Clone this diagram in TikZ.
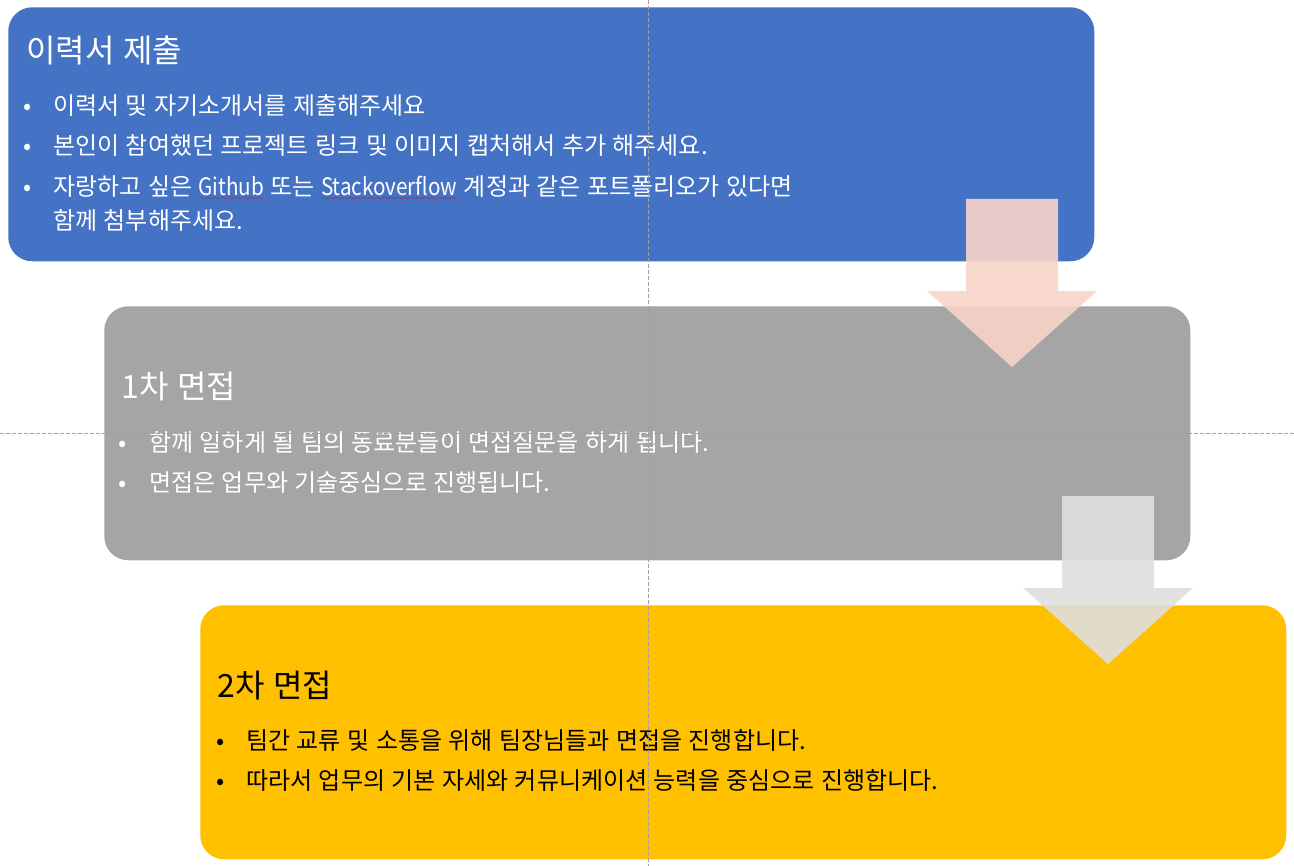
\documentclass[tikz,border=0pt]{standalone}
\usepackage{fontspec}
\setmainfont{Noto Sans CJK KR}[WordSpace=1.2]
\usepackage{xcolor}
\usepackage{tikz}
\usetikzlibrary{positioning,calc}

\definecolor{stageblue}{HTML}{4472C4}
\definecolor{stagegray}{HTML}{A5A5A5}
\definecolor{stagegold}{HTML}{FFC000}
\definecolor{arrpink}{RGB}{248,212,200}
\definecolor{arrgray}{RGB}{223,223,223}
\definecolor{guidegray}{RGB}{160,160,160}

% red wavy spell-check mark
\font\sixly=lasy6
\newcommand\spellwave[1]{\setbox0\hbox{\addfontfeatures{FakeStretch=0.86}#1}\rlap{\lower3pt\hbox to\wd0{\color{red!85!black}\xleaders\hbox{\sixly\char58}\hfil}}\box0}

\begin{document}
\begin{tikzpicture}[x=0.75pt,y=-0.75pt,
	stage/.style={rounded corners=18pt, minimum width=814.5pt, minimum height=190.5pt, anchor=north west, inner sep=0pt},
	ttl/.style={anchor=base west, inner sep=0pt, font=\fontsize{24}{28}\selectfont},
	itm/.style={anchor=base west, inner sep=0pt, font=\fontsize{18}{25.5}\selectfont},
	bul/.style={anchor=base, inner sep=0pt, font=\fontsize{18}{25.5}\selectfont},
	guide/.style={guidegray, line width=0.75pt, dash pattern=on 3pt off 1.5pt}]
	\useasboundingbox (0,0) rectangle (1294,866);
	\node[stage, fill=stageblue] (resume) at (8,7) {};
	\node[stage, fill=stagegray] (first) at (104,306) {};
	\node[stage, fill=stagegold] (second) at (200,605) {};
	% block arrows
	\foreach \cx/\ty/\col in {1012/199/arrpink, 1108/496/arrgray}{
		\fill[\col, opacity=0.9] ({\cx-46},\ty) -- ({\cx+46},\ty) -- ({\cx+46},\ty+92) -- ({\cx+85},\ty+92) -- (\cx,\ty+168) -- ({\cx-85},\ty+92) -- ({\cx-46},\ty+92) -- cycle;}
	% stage 1
	\node[ttl, text=white] (t1) at (26,63) {이력서 제출};
	\foreach \y/\t [count=\i] in {115/{이력서 및 자기소개서를 제출해주세요}, 155/{본인이 참여했던 프로젝트 링크 및 이미지 캡처해서 추가 해주세요.}, 196/{자랑하고 싶은 \spellwave{Github}\ 또는 \spellwave{Stackoverflow}\ 계정과 같은 포트폴리오가 있다면}}{
		\node[bul, text=white] (d1-\i) at (28,\y) {•};
		\node[itm, text=white] (l1-\i) at (53,\y) {\t};}
	\node[itm, text=white] (l1-4) at (53,229) {함께 첨부해주세요.};
	% stage 2
	\node[ttl, text=white] (t2) at (121,398) {1차 면접};
	\foreach \y/\t [count=\i] in {451/{함께 일하게 될 팀의 동료분들이 면접질문을 하게 됩니다.}, 491/{면접은 업무와 기술중심으로 진행됩니다.}}{
		\node[bul, text=white] (d2-\i) at (123,\y) {•};
		\node[itm, text=white] (l2-\i) at (149,\y) {\t};}
	% stage 3
	\node[ttl] (t3) at (217,697) {2차 면접};
	\foreach \y/\t [count=\i] in {749/{팀간 교류 및 소통을 위해 팀장님들과 면접을 진행합니다.}, 789/{따라서 업무의 기본 자세와 커뮤니케이션 능력을 중심으로 진행합니다.}}{
		\node[bul] (d3-\i) at (221,\y) {•};
		\node[itm] (l3-\i) at (246,\y) {\t};}
	% guides
	\draw[guide] (648,0) -- (648,866);
	\draw[guide] (0,433) -- (1294,433);
\end{tikzpicture}
\end{document}
